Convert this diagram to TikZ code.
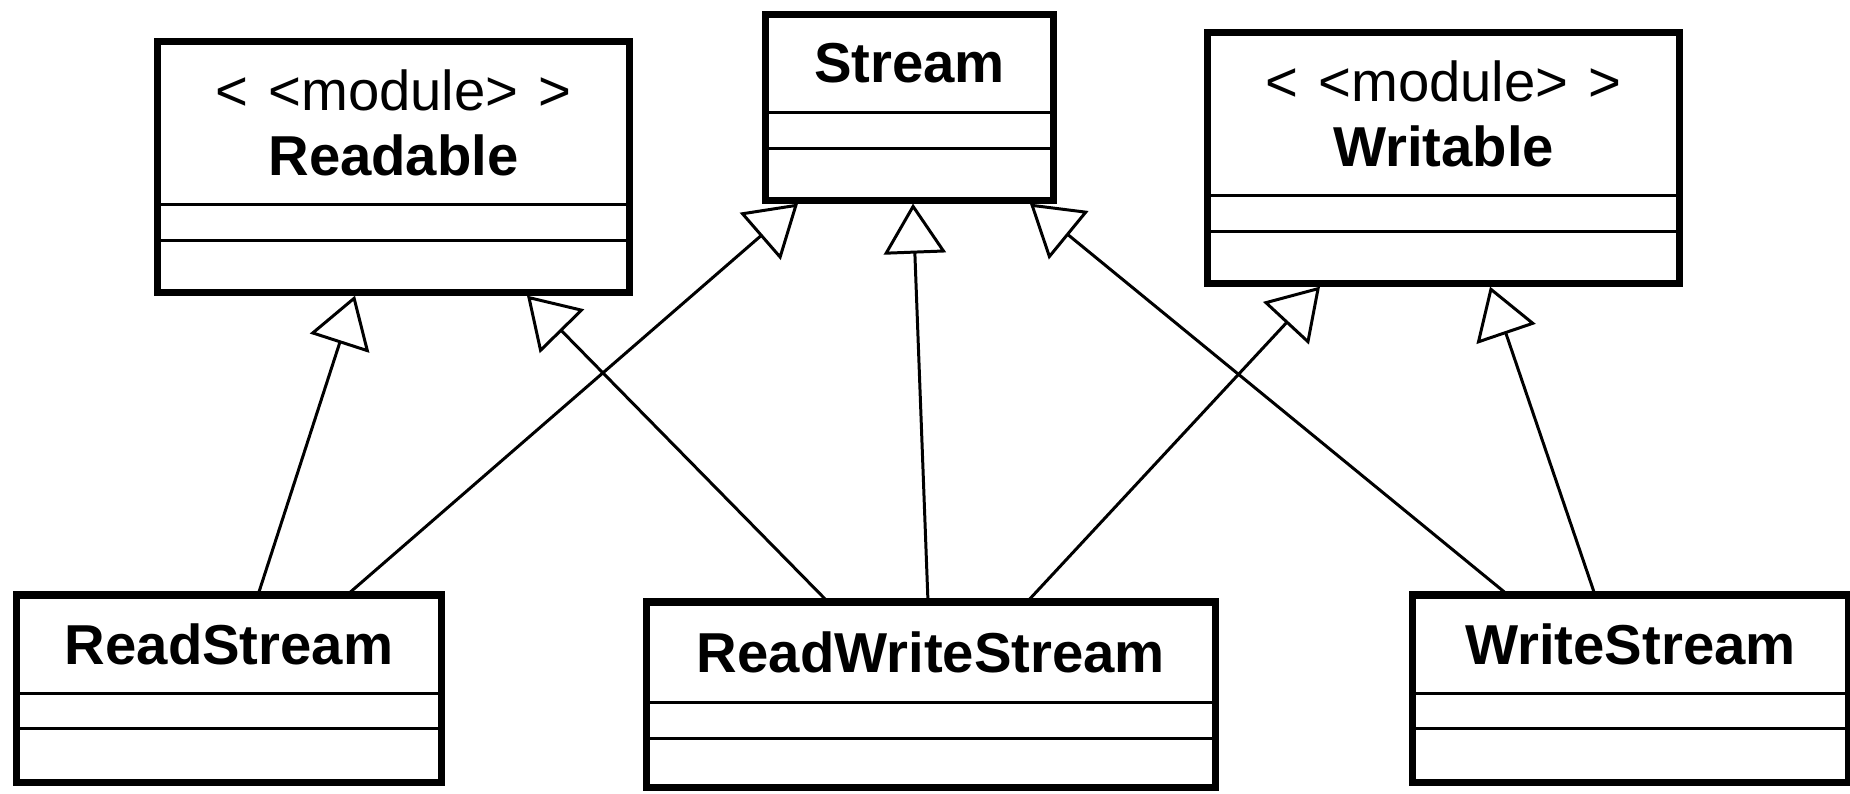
\documentclass[tikz,border=0pt]{standalone}
\usepackage{fontspec}
\setmainfont{Liberation Sans}
\usetikzlibrary{arrows.meta,calc,positioning}

\tikzset{
	classname/.style={draw, line width=0.85pt, minimum width=#1, inner sep=0pt, outer sep=0pt,
		align=center, font=\fontsize{16}{17.3}\selectfont},
	compartment/.style={draw, line width=0.85pt, minimum width=#1, minimum height=0.36cm,
		inner sep=0pt, outer sep=0pt},
	frame/.style={line width=2pt},
	extends/.style={line width=0.85pt, -{Triangle[open, length=0.5cm, width=0.62cm, fill=white]}}
}

\begin{document}
\begin{tikzpicture}[x=0.01cm, y=-0.01cm]
			%%%%% START %%%%%
			\useasboundingbox (0,0) rectangle (1850,793);
			
			% top row
			\node[classname=4.71cm, minimum height=1.62cm] (readable) at (393.5,123) {<\hspace{0.35em}<module>\hspace{0.35em}>\\[1pt]\textbf{Readable}};
			\node[compartment=4.71cm, below=0pt of readable] (readable-a) {};
			\node[compartment=4.71cm, minimum height=0.52cm, below=0pt of readable-a] (readable-m) {};
			
			\node[classname=2.87cm, minimum height=0.97cm] (stream) at (909.5,63.5) {\textbf{Stream}};
			\node[compartment=2.87cm, below=0pt of stream] (stream-a) {};
			\node[compartment=2.87cm, minimum height=0.52cm, below=0pt of stream-a] (stream-m) {};
			
			\node[classname=4.71cm, minimum height=1.62cm] (writable) at (1443.5,114) {<\hspace{0.35em}<module>\hspace{0.35em}>\\[1pt]\textbf{Writable}};
			\node[compartment=4.71cm, below=0pt of writable] (writable-a) {};
			\node[compartment=4.71cm, minimum height=0.52cm, below=0pt of writable-a] (writable-m) {};
			
			% bottom row
			\node[classname=4.24cm, minimum height=0.98cm] (rs) at (229,644) {\textbf{ReadStream}};
			\node[compartment=4.24cm, minimum height=0.35cm, below=0pt of rs] (rs-a) {};
			\node[compartment=4.24cm, minimum height=0.54cm, below=0pt of rs-a] (rs-m) {};
			
			\node[classname=5.68cm, minimum height=1.0cm] (rws) at (931,652) {\textbf{ReadWriteStream}};
			\node[compartment=5.68cm, below=0pt of rws] (rws-a) {};
			\node[compartment=5.68cm, minimum height=0.49cm, below=0pt of rws-a] (rws-m) {};
			
			\node[classname=4.35cm, minimum height=0.98cm] (ws) at (1630.5,644) {\textbf{WriteStream}};
			\node[compartment=4.35cm, minimum height=0.35cm, below=0pt of ws] (ws-a) {};
			\node[compartment=4.35cm, minimum height=0.54cm, below=0pt of ws-a] (ws-m) {};
			
			% generalisations
			\draw[extends] ($(rs.north)+(29,0)$) -- ($(readable-m.south)+(-38.5,3.5)$);
			\draw[extends] ($(rs.north)+(118,0)$) -- ($(stream-m.south)+(-111.5,3.5)$);
			\draw[extends] ($(rws.north)+(-103,0)$) -- ($(readable-m.south)+(133.5,3.5)$);
			\draw[extends] ($(rws.north)+(-3,0)$) -- ($(stream-m.south)+(3.5,3.5)$);
			\draw[extends] ($(rws.north)+(96,0)$) -- ($(writable-m.south)+(-123.5,3.5)$);
			\draw[extends] ($(ws.north)+(-122.5,0)$) -- ($(stream-m.south)+(120.5,3.5)$);
			\draw[extends] ($(ws.north)+(-35.5,0)$) -- ($(writable-m.south)+(46.5,3.5)$);
			
			% thick outlines
			\draw[frame] (readable.north west) rectangle (readable-m.south east);
			\draw[frame] (stream.north west) rectangle (stream-m.south east);
			\draw[frame] (writable.north west) rectangle (writable-m.south east);
			\draw[frame] (rs.north west) rectangle (rs-m.south east);
			\draw[frame] (rws.north west) rectangle (rws-m.south east);
			\draw[frame] (ws.north west) rectangle (ws-m.south east);
			
			%%%%% END %%%%%
\end{tikzpicture}
\end{document}
